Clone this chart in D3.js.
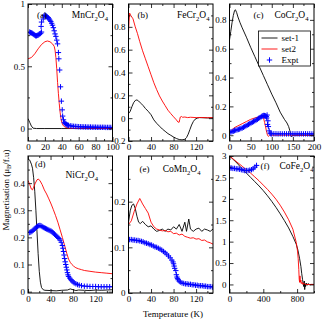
<!DOCTYPE html>
<html>
<head>
<meta charset="utf-8">
<script src="https://cdn.jsdelivr.net/npm/d3@7"></script>
<style>
  body { margin: 0; background: #fff; }
  svg { display: block; font-family: "Liberation Serif", "DejaVu Serif", serif; }
  .tick text { font-size: 9px; fill: #000; }
  .tick line { stroke: #000; stroke-width: 0.8; }
</style>
</head>
<body>
<svg id="chart" width="322" height="320"></svg>
<script>
// ---- data (T in K, M in muB/f.u) ----
const mnSet1 = [[0,0.08],[2,0.05],[4,0.02],[6,0.003],[10,0],[20,0],[40,0],[60,0],[80,0],[100,0]];
const mnSet2 = [[0,0.56],[4,0.57],[8,0.6],[12,0.64],[16,0.675],[20,0.697],[23,0.703],[26,0.697],[29,0.68],[31,0.66],[32,0.63],[33,0.57],[34,0.48],[35,0.37],[36,0.28],[37,0.2],[38,0.13],[39,0.08],[40,0.05],[41,0.03],[43,0.015],[46,0.006],[50,0.002],[100,0]];
const mnExpt = [[2,0.775],[3,0.77],[4,0.768],[5,0.765],[6,0.76],[7,0.755],[8,0.75],[9,0.745],[10,0.745],[11,0.748],[12,0.75],[13,0.755],[14,0.76],[15,0.765],[16,0.775],[15.5,0.82],[16,0.855],[18,0.88],[19,0.905],[20,0.91],[21,0.905],[22,0.9],[23,0.895],[24,0.89],[25,0.88],[26,0.87],[27,0.86],[28,0.845],[29,0.83],[30,0.81],[31,0.785],[32,0.76],[33,0.74],[34,0.71],[35,0.68],[36,0.61],[36.5,0.56],[37.5,0.47],[38.5,0.335],[39.5,0.22],[40.5,0.15],[41,0.1],[42,0.07],[43,0.05],[44,0.04],[45,0.035],[46,0.03],[47,0.028],[48,0.025],[50,0.022],[52,0.02],[54,0.018],[56,0.017],[58,0.016],[60,0.015],[62,0.014],[64,0.014],[66,0.013],[68,0.013],[70,0.012],[72,0.012],[74,0.012],[76,0.011],[78,0.011],[80,0.011],[82,0.01],[84,0.01],[86,0.01],[88,0.01],[90,0.01],[92,0.009],[94,0.009],[96,0.009],[98,0.009],[100,0.009]];

const feSet1 = [[0,0.04],[3,0.06],[6,0.1],[9,0.135],[12,0.155],[15,0.16],[18,0.15],[22,0.13],[26,0.11],[30,0.085],[35,0.06],[40,0.03],[45,-0.015],[50,-0.045],[55,-0.07],[60,-0.095],[65,-0.115],[70,-0.135],[75,-0.15],[80,-0.165],[85,-0.178],[90,-0.187],[95,-0.19],[100,-0.185],[103,-0.17],[106,-0.14],[109,-0.1],[112,-0.06],[115,-0.03],[118,-0.01],[122,0.0],[126,0.005],[130,0.004],[140,0.002],[150,0.002]];
const feSet2 = [[0,0.75],[1,0.85],[2,0.92],[4,0.9],[8,0.87],[12,0.8],[16,0.74],[20,0.67],[25,0.59],[30,0.52],[35,0.45],[40,0.38],[45,0.31],[50,0.25],[55,0.195],[60,0.15],[65,0.11],[70,0.07],[75,0.04],[80,0.012],[85,-0.015],[88,-0.035],[90,-0.035],[91,-0.01],[92,0.01],[94,0.015],[96,0.008],[100,0.01],[105,0.005],[110,0.008],[120,0.005],[130,0.006],[140,0.004],[150,0.005]];

const coSet1 = [[0,0.66],[3,0.72],[6,0.78],[9,0.83],[12,0.865],[14,0.87],[17,0.85],[20,0.82],[25,0.78],[30,0.745],[40,0.68],[50,0.61],[60,0.545],[70,0.48],[80,0.415],[90,0.35],[100,0.285],[110,0.225],[120,0.16],[130,0.11],[136,0.085],[140,0.06],[143,0.03],[145,0.0],[147,-0.01],[150,0.0],[160,0.0],[200,0.0]];
const coSet2 = [[0,0.02],[5,0.035],[10,0.05],[15,0.058],[20,0.065],[30,0.08],[40,0.095],[50,0.11],[60,0.12],[70,0.128],[75,0.133],[78,0.135],[80,0.125],[83,0.09],[86,0.05],[88,0.02],[90,0.0],[92,-0.008],[95,0.0],[100,0.0],[200,0.0]];
const coExpt = [[0,0.02],[3,0.022],[6,0.025],[9,0.028],[12,0.032],[15,0.035],[18,0.038],[21,0.04],[24,0.043],[27,0.047],[30,0.05],[33,0.055],[36,0.06],[39,0.065],[42,0.07],[45,0.075],[48,0.08],[51,0.085],[54,0.09],[57,0.095],[60,0.1],[63,0.105],[66,0.11],[69,0.117],[72,0.122],[75,0.128],[77,0.132],[79,0.135],[81,0.137],[83,0.136],[85,0.134],[87,0.13],[88,0.12],[89,0.14],[90,0.075],[91,0.1],[92,0.06],[94,0.03],[96,0.015],[98,0.01],[100,0.01],[105,0.01],[110,0.01],[115,0.009],[120,0.01],[125,0.009],[130,0.01],[135,0.009],[140,0.01],[145,0.009],[150,0.01],[155,0.009],[160,0.01],[165,0.009],[170,0.01],[175,0.009],[180,0.01],[185,0.009],[190,0.01],[195,0.009],[200,0.009]];

const niSet1 = [[0,0.49],[3,0.485],[6,0.47],[8,0.455],[10,0.42],[12,0.37],[14,0.3],[16,0.22],[18,0.14],[20,0.075],[22,0.035],[24,0.015],[27,0.007],[30,0.005],[40,0.004],[50,0.003],[60,0.005],[70,0.006],[75,0.01],[80,0.007],[85,0.004],[90,0.006],[100,0.005],[110,0.004],[120,0.006],[130,0.005],[140,0.006],[150,0.007]];
const niSet2 = [[0,0.41],[3,0.395],[6,0.378],[8,0.375],[10,0.385],[13,0.4],[16,0.412],[18,0.415],[21,0.41],[25,0.395],[29,0.375],[33,0.36],[37,0.342],[41,0.323],[45,0.302],[49,0.28],[53,0.256],[57,0.228],[61,0.2],[65,0.17],[69,0.14],[72,0.12],[75,0.108],[78,0.1],[81,0.094],[85,0.088],[90,0.084],[95,0.081],[100,0.078],[110,0.075],[120,0.072],[130,0.07],[140,0.068],[150,0.066]];
const niExpt = [[3,0.218],[5,0.22],[7,0.222],[9,0.226],[11,0.23],[13,0.234],[15,0.238],[17,0.241],[19,0.243],[21,0.244],[23,0.243],[25,0.24],[27,0.237],[29,0.235],[31,0.233],[33,0.231],[35,0.229],[37,0.227],[39,0.225],[41,0.223],[43,0.22],[45,0.216],[47,0.212],[49,0.208],[51,0.204],[53,0.2],[55,0.196],[57,0.19],[59,0.182],[61,0.17],[62,0.16],[63,0.148],[64,0.135],[65,0.122],[66,0.11],[67,0.1],[68,0.09],[69,0.08],[70,0.07],[71,0.062],[72,0.056],[74,0.05],[76,0.044],[78,0.04],[80,0.036],[82,0.032],[85,0.029],[88,0.026],[91,0.024],[95,0.022],[100,0.02],[105,0.02],[110,0.019],[115,0.019],[120,0.019],[125,0.018],[130,0.018],[135,0.018],[140,0.018],[145,0.018],[150,0.018]];

const cmSet1 = [[0,0.155],[3,0.18],[6,0.192],[9,0.195],[12,0.185],[15,0.168],[18,0.155],[21,0.152],[25,0.157],[30,0.15],[35,0.145],[40,0.147],[45,0.14],[50,0.135],[55,0.137],[60,0.14],[65,0.135],[70,0.14],[75,0.138],[80,0.145],[85,0.14],[90,0.15],[95,0.135],[100,0.155],[103,0.135],[107,0.162],[110,0.14],[115,0.135],[120,0.14],[125,0.142],[130,0.135],[135,0.14],[140,0.138],[145,0.135],[150,0.14]];
const cmSet2 = [[0,0.15],[5,0.158],[10,0.178],[15,0.195],[20,0.207],[25,0.195],[30,0.185],[35,0.175],[40,0.155],[45,0.145],[50,0.14],[55,0.138],[60,0.136],[65,0.137],[70,0.134],[75,0.135],[80,0.13],[85,0.131],[90,0.127],[95,0.129],[100,0.124],[105,0.122],[110,0.12],[115,0.121],[120,0.118],[125,0.119],[130,0.115],[135,0.116],[140,0.112],[145,0.11],[150,0.107]];
const cmExpt = [[2,0.117],[5,0.117],[8,0.116],[11,0.116],[14,0.115],[17,0.115],[20,0.114],[23,0.113],[26,0.112],[29,0.11],[32,0.109],[35,0.108],[38,0.106],[41,0.105],[44,0.103],[47,0.101],[50,0.1],[53,0.098],[56,0.096],[59,0.094],[62,0.091],[65,0.088],[68,0.085],[71,0.081],[74,0.077],[77,0.072],[79,0.068],[80,0.064],[81,0.059],[82,0.054],[84,0.049],[85,0.04],[86,0.035],[87,0.032],[88,0.029],[90,0.026],[92,0.024],[95,0.022],[98,0.021],[101,0.02],[104,0.02],[107,0.019],[110,0.019],[113,0.018],[116,0.018],[119,0.017],[122,0.017],[125,0.016],[128,0.016],[131,0.016],[134,0.015],[137,0.015],[140,0.014],[143,0.014],[146,0.014],[149,0.013]];

const cfSet1 = [[0,3.0],[50,2.91],[100,2.81],[150,2.7],[200,2.6],[250,2.5],[300,2.4],[350,2.3],[400,2.19],[450,2.07],[500,1.94],[550,1.8],[600,1.65],[650,1.49],[700,1.32],[750,1.12],[790,0.94],[810,0.8],[830,0.6],[845,0.42],[855,0.25],[865,0.11],[872,0.02],[878,-0.05],[885,0.08],[890,-0.12],[895,0.02],[900,-0.05],[910,0.03],[920,-0.02],[930,0.02],[950,-0.01],[970,0.0],[1000,0.0]];
const cfSet2 = [[0,3.0],[50,2.92],[100,2.84],[150,2.76],[200,2.68],[250,2.6],[300,2.51],[350,2.42],[400,2.32],[450,2.22],[500,2.11],[550,1.99],[600,1.85],[650,1.69],[700,1.51],[750,1.29],[790,0.98],[805,0.78],[813,0.6],[820,0.35],[825,0.12],[830,0.05],[834,0.2],[838,0.05],[845,0.1],[850,0.02],[860,0.05],[870,0.0],[880,0.03],[900,0.0],[950,0.0],[1000,0.0]];
const cfExpt = [[5,2.72],[20,2.72],[40,2.71],[60,2.71],[80,2.7],[100,2.7],[120,2.69],[140,2.68],[160,2.67],[180,2.66],[200,2.66],[220,2.66],[240,2.67],[260,2.68],[280,2.7],[300,2.74],[320,2.78]];

// ---- tick labels / values ----
const aXTicks = [0,20,40,60,80,100], aXMinor = [10,30,50,70,90];
const aYTicks = [0,0.5,1], aYMinor = [0.25,0.75];
const bXTicks = [0,40,80,120], bXMinor = [20,60,100,140];
const bYTicks = [-0.2,0,0.2,0.4,0.6,0.8], bYMinor = [-0.1,0.1,0.3,0.5,0.7,0.9];
const cXTicks = [0,50,100,150,200], cXMinor = [25,75,125,175];
const cYTicks = [0,0.2,0.4,0.6,0.8], cYMinor = [0.1,0.3,0.5,0.7];
const dXTicks = [0,40,80,120], dXMinor = [20,60,100,140];
const dYTicks = [0,0.1,0.2,0.3,0.4], dYMinor = [0.05,0.15,0.25,0.35,0.45];
const eXTicks = [0,40,80,120], eXMinor = [20,60,100,140];
const eYTicks = [0,0.1,0.2], eYMinor = [0.05,0.15,0.25];
const fXTicks = [0,400,800], fXMinor = [200,600,1000];
const fYTicks = [0,0.5,1,1.5,2,2.5,3], fYMinor = [0.25,0.75,1.25,1.75,2.25,2.75];

const legendLabels = ["set-1", "set2", "Expt"];

const panels = [
  { col: 0, row: 0, xd: [0,100], yd: [-0.1,1], xt: aXTicks, xm: aXMinor, yt: aYTicks, ym: aYMinor,
    s1: mnSet1, s2: mnSet2, ex: mnExpt, tag: "(a)", tagPos: [9,14], name: ["MnCr","2","O","4"], namePos: [80,14], nameAnchor: "end" },
  { col: 1, row: 0, xd: [0,150], yd: [-0.2,1.0], xt: bXTicks, xm: bXMinor, yt: bYTicks, ym: bYMinor,
    s1: feSet1, s2: feSet2, ex: null, tag: "(b)", tagPos: [9,14], name: ["FeCr","2","O","4"], namePos: [81,14], nameAnchor: "end" },
  { col: 2, row: 0, xd: [0,200], yd: [-0.04,0.91], xt: cXTicks, xm: cXMinor, yt: cYTicks, ym: cYMinor,
    s1: coSet1, s2: coSet2, ex: coExpt, tag: "(c)", tagPos: [24,14], name: ["CoCr","2","O","4"], namePos: [79,14], nameAnchor: "end", legend: true },
  { col: 0, row: 1, xd: [0,150], yd: [-0.005,0.5], xt: dXTicks, xm: dXMinor, yt: dYTicks, ym: dYMinor,
    s1: niSet1, s2: niSet2, ex: niExpt, tag: "(d)", tagPos: [7,11], name: ["NiCr","2","O","4"], namePos: [70,22], nameAnchor: "end" },
  { col: 1, row: 1, xd: [0,150], yd: [0,0.3], xt: eXTicks, xm: eXMinor, yt: eYTicks, ym: eYMinor,
    s1: cmSet1, s2: cmSet2, ex: cmExpt, tag: "(e)", tagPos: [11,16], name: ["CoMn","2","O","4"], namePos: [72,16], nameAnchor: "end" },
  { col: 2, row: 1, xd: [0,1000], yd: [-0.2,3], xt: fXTicks, xm: fXMinor, yt: fYTicks, ym: fYMinor,
    s1: cfSet1, s2: cfSet2, ex: cfExpt, tag: "(f) ", tagPos: [31,13], name: ["CoFe","2","O","4"], namePos: [84,13], nameAnchor: "end" }
];

// ---- layout ----
const colX = [28, 128.5, 229.5];
const rowY = [4, 156];
const pw = 84.5, ph = 137;

const svg = d3.select("#chart");
const fmt = d => String(d).replace("-", "-");

function formula(sel, parts, size) {
  sel.append("tspan").text(parts[0]);
  sel.append("tspan").attr("dy", 2.5).style("font-size", (size * 0.7) + "px").text(parts[1]);
  sel.append("tspan").attr("dy", -2.5).text(parts[2]);
  sel.append("tspan").attr("dy", 2.5).style("font-size", (size * 0.7) + "px").text(parts[3]);
}

function plus(g, pts, x, y, r) {
  g.selectAll(null).data(pts).enter().append("path")
    .attr("d", d => `M${x(d[0]) - r},${y(d[1])}h${2 * r}M${x(d[0])},${y(d[1]) - r}v${2 * r}`)
    .attr("stroke", "#0000ff").attr("stroke-width", 1).attr("fill", "none");
}

panels.forEach(p => {
  const g = svg.append("g").attr("transform", `translate(${colX[p.col]},${rowY[p.row]})`);
  const x = d3.scaleLinear().domain(p.xd).range([0, pw]);
  const y = d3.scaleLinear().domain(p.yd).range([ph, 0]);

  const defs = g.append("clipPath").attr("id", "clip" + p.col + p.row);
  defs.append("rect").attr("width", pw).attr("height", ph);
  const plot = g.append("g").attr("clip-path", `url(#clip${p.col}${p.row})`);

  const line = d3.line().x(d => x(d[0])).y(d => y(d[1]));
  plot.append("path").datum(p.s1).attr("d", line)
    .attr("fill", "none").attr("stroke", "#000").attr("stroke-width", 0.9);
  plot.append("path").datum(p.s2).attr("d", line)
    .attr("fill", "none").attr("stroke", "#ff0000").attr("stroke-width", 0.9);
  if (p.ex) plus(plot, p.ex, x, y, 2.7);

  // axes with inward ticks on all four sides
  const ax = [
    [d3.axisBottom(x).tickValues(p.xt).tickSize(-4).tickPadding(3).tickFormat(fmt), `translate(0,${ph})`],
    [d3.axisBottom(x).tickValues(p.xm).tickSize(-2).tickFormat(""), `translate(0,${ph})`],
    [d3.axisTop(x).tickValues(p.xt).tickSize(-4).tickFormat(""), null],
    [d3.axisTop(x).tickValues(p.xm).tickSize(-2).tickFormat(""), null],
    [d3.axisLeft(y).tickValues(p.yt).tickSize(-4).tickPadding(3).tickFormat(fmt), null],
    [d3.axisLeft(y).tickValues(p.ym).tickSize(-2).tickFormat(""), null],
    [d3.axisRight(y).tickValues(p.yt).tickSize(-4).tickFormat(""), `translate(${pw},0)`],
    [d3.axisRight(y).tickValues(p.ym).tickSize(-2).tickFormat(""), `translate(${pw},0)`]
  ];
  ax.forEach(([a, tr]) => {
    const ag = g.append("g").call(a);
    if (tr) ag.attr("transform", tr);
    ag.select(".domain").remove();
    ag.selectAll("text").style("font-family", "Liberation Serif");
  });

  g.append("rect").attr("width", pw).attr("height", ph)
    .attr("fill", "none").attr("stroke", "#000").attr("stroke-width", 1);

  g.append("text").attr("x", p.tagPos[0]).attr("y", p.tagPos[1])
    .style("font-size", "9px").text(p.tag);
  const nt = g.append("text").attr("x", p.namePos[0]).attr("y", p.namePos[1])
    .attr("text-anchor", p.nameAnchor).style("font-size", "9.5px");
  formula(nt, p.name, 9.5);

  if (p.legend) {
    const lg = g.append("g").attr("transform", "translate(29,27)");
    lg.append("rect").attr("width", 52).attr("height", 35)
      .attr("fill", "#fff").attr("stroke", "#000").attr("stroke-width", 0.8);
    const cols = ["#000", "#ff0000"];
    legendLabels.forEach((lab, i) => {
      const ly = 7 + i * 11;
      if (i < 2) {
        lg.append("line").attr("x1", 3).attr("x2", 19).attr("y1", ly).attr("y2", ly)
          .attr("stroke", cols[i]).attr("stroke-width", 0.9);
      } else {
        lg.append("path").attr("d", `M${11 - 2.7},${ly}h5.4M11,${ly - 2.7}v5.4`)
          .attr("stroke", "#0000ff").attr("stroke-width", 1);
      }
      lg.append("text").attr("x", 23).attr("y", ly + 3).style("font-size", "9px").text(lab);
    });
  }
});

// axis titles
svg.append("text").attr("x", 173).attr("y", 317).attr("text-anchor", "middle")
  .style("font-size", "9px").text("Temperature (K)");

const yl = svg.append("text").attr("transform", "translate(9,190) rotate(-90)")
  .attr("text-anchor", "middle").style("font-size", "9px");
yl.append("tspan").text("Magnetisation (\u03bc");
yl.append("tspan").attr("dy", 2).style("font-size", "6.5px").text("B");
yl.append("tspan").attr("dy", -2).text("/f.u)");
</script>
</body>
</html>
